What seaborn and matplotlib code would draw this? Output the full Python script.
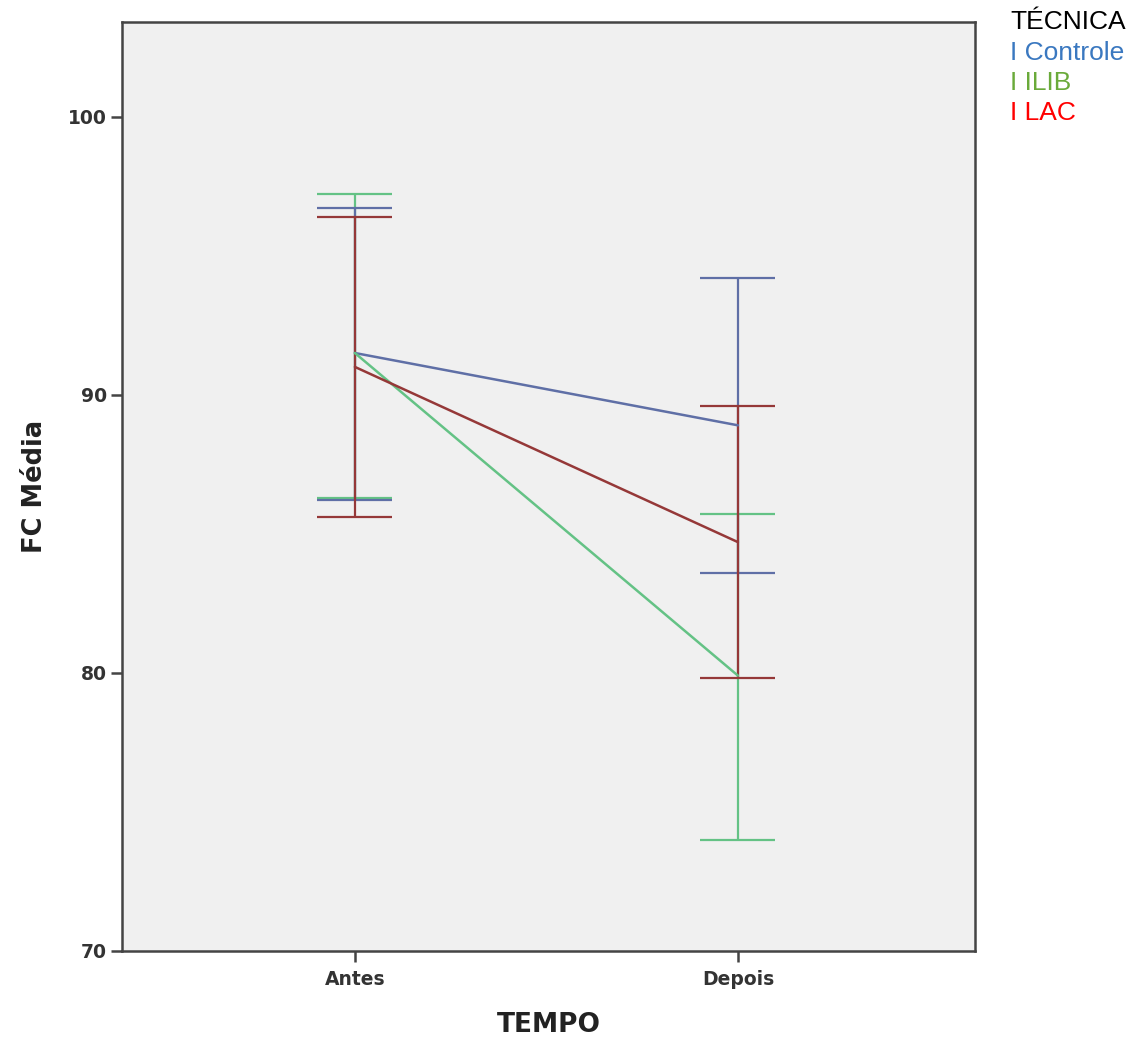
import matplotlib
matplotlib.use("Agg")
import matplotlib.pyplot as plt
import seaborn as sns
import pandas as pd
import numpy as np

tempos = ["Antes", "Depois"]
tecnicas = ["Controle", "ILIB", "LAC"]
media_controle = [91.5, 88.9]
media_ilib = [91.5, 79.9]
media_lac = [91.0, 84.7]
inf_controle = [86.2, 83.6]
sup_controle = [96.7, 94.2]
inf_ilib = [86.3, 74.0]
sup_ilib = [97.2, 85.7]
inf_lac = [85.6, 79.8]
sup_lac = [96.4, 89.6]
yticks = [70, 80, 90, 100]

line_colors = {"Controle": "#5f6fa6", "ILIB": "#64c285", "LAC": "#953838"}
legend_colors = {"Controle": "#3a78c0", "ILIB": "#6aaa3a", "LAC": "#ff0000"}

rows = []
for tec, m, lo, hi in zip(tecnicas,
                          [media_controle, media_ilib, media_lac],
                          [inf_controle, inf_ilib, inf_lac],
                          [sup_controle, sup_ilib, sup_lac]):
    for i, t in enumerate(tempos):
        rows.append({"TEMPO": i, "Tempo": t, "TECNICA": tec, "FC": m[i], "lo": lo[i], "hi": hi[i]})
df = pd.DataFrame(rows)

sns.set_style("white")
plt.rcParams['font.family'] = ['DejaVu Sans']

fig = plt.figure(figsize=(11.36, 10.45), dpi=100)
ax = fig.add_axes([0.1074, 0.0900, 0.7509, 0.8889])
ax.set_facecolor("#f0f0f0")

# error bars first
order_draw = ["ILIB", "Controle", "LAC"]
for tec in order_draw:
    sub = df[df.TECNICA == tec]
    c = line_colors[tec]
    ax.vlines(sub.TEMPO, sub.lo, sub.hi, color=c, lw=1.6, zorder=2)
    for _, r in sub.iterrows():
        ax.hlines([r.lo, r.hi], r.TEMPO - 0.098, r.TEMPO + 0.098, color=c, lw=1.6, zorder=2)

sns.lineplot(data=df, x="TEMPO", y="FC", hue="TECNICA", hue_order=tecnicas,
             palette=line_colors, linewidth=1.8, legend=False, ax=ax, zorder=3)

ax.set_xlim(-0.608, 1.619)
ax.set_ylim(70, 103.4)
ax.set_xticks([0, 1])
ax.set_xticklabels(tempos)
ax.set_yticks(yticks)
ax.set_yticklabels([str(v) for v in yticks])
for sp in ax.spines.values():
    sp.set_color("#444444")
    sp.set_linewidth(1.8)
ax.tick_params(axis="both", direction="out", length=8, width=1.8, color="#444444",
               labelsize=13.5, labelcolor="#333333", pad=3, bottom=True, left=True)
for lab in ax.get_xticklabels() + ax.get_yticklabels():
    lab.set_fontweight("bold")
ax.tick_params(axis="x", pad=6)
ax.set_xlabel("TEMPO", fontsize=19, fontweight="bold", color="#222222", labelpad=16)
ax.set_ylabel("FC Média", fontsize=18.5, fontweight="bold", color="#222222", labelpad=14)

fig.text(1010 / 1136, 1 - 22 / 1045, "TÉCNICA", fontsize=19, color="black",
         family="Liberation Sans", va="center", ha="left")
for i, tec in enumerate(tecnicas):
    fig.text(1010 / 1136, 1 - (53 + 30 * i) / 1045, "I " + tec, fontsize=19,
             color=legend_colors[tec], family="Liberation Sans", va="center", ha="left")

fig.savefig("out.png", dpi=100)
